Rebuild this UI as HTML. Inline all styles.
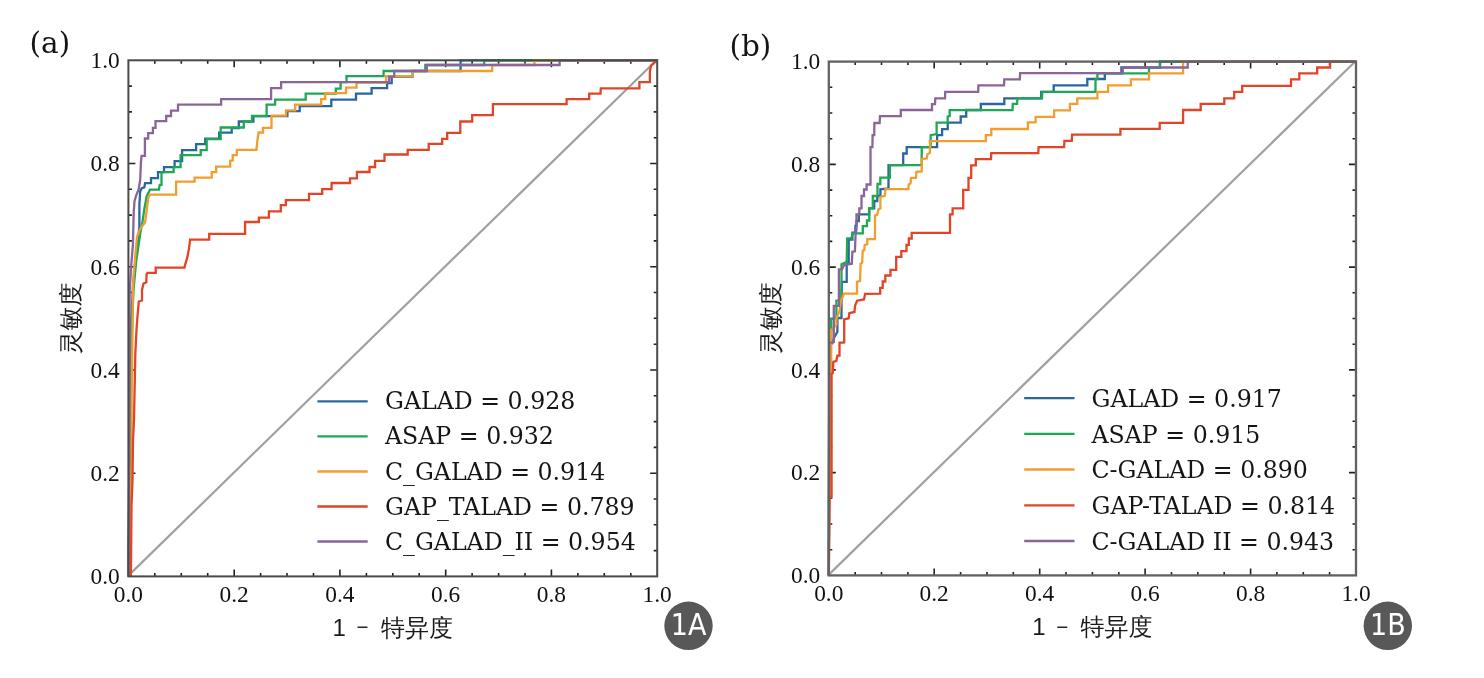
<!DOCTYPE html><html><head><meta charset="utf-8"><title>ROC</title><style>html,body{margin:0;padding:0;background:#fff;width:1484px;height:678px;overflow:hidden}svg{display:block}.tl{font-family:"Liberation Serif",serif;font-size:23.4px;fill:#111}.lg{font-family:"DejaVu Serif",serif;font-size:23.67px;fill:#151515}.pl{font-family:"DejaVu Serif",serif;font-size:29.5px;fill:#151515}.cj{font-family:"Liberation Sans","WenQuanYi Zen Hei",sans-serif;font-size:24px;fill:#1a1a1a}.bd{font-family:"DejaVu Sans",sans-serif;font-stretch:condensed;font-size:30px;fill:#fff}</style></head><body>
<svg width="1484" height="678" viewBox="0 0 1484 678">
<rect width="1484" height="678" fill="#fff"/>
<line x1="128.4" y1="575.6" x2="657.2" y2="59.5" stroke="#a0a0a0" stroke-width="2.2"/>
<path d="M154.8 576.4v-3.5M154.8 60.3v3.5M128.4 550.6h3.5M657.2 550.6h-3.5M181.3 576.4v-3.5M181.3 60.3v3.5M128.4 524.8h3.5M657.2 524.8h-3.5M207.7 576.4v-3.5M207.7 60.3v3.5M128.4 499.0h3.5M657.2 499.0h-3.5M234.2 576.4v-7M234.2 60.3v7M128.4 473.2h7M657.2 473.2h-7M260.6 576.4v-3.5M260.6 60.3v3.5M128.4 447.4h3.5M657.2 447.4h-3.5M287.0 576.4v-3.5M287.0 60.3v3.5M128.4 421.6h3.5M657.2 421.6h-3.5M313.5 576.4v-3.5M313.5 60.3v3.5M128.4 395.8h3.5M657.2 395.8h-3.5M339.9 576.4v-7M339.9 60.3v7M128.4 370.0h7M657.2 370.0h-7M366.4 576.4v-3.5M366.4 60.3v3.5M128.4 344.2h3.5M657.2 344.2h-3.5M392.8 576.4v-3.5M392.8 60.3v3.5M128.4 318.3h3.5M657.2 318.3h-3.5M419.2 576.4v-3.5M419.2 60.3v3.5M128.4 292.5h3.5M657.2 292.5h-3.5M445.7 576.4v-7M445.7 60.3v7M128.4 266.7h7M657.2 266.7h-7M472.1 576.4v-3.5M472.1 60.3v3.5M128.4 240.9h3.5M657.2 240.9h-3.5M498.6 576.4v-3.5M498.6 60.3v3.5M128.4 215.1h3.5M657.2 215.1h-3.5M525.0 576.4v-3.5M525.0 60.3v3.5M128.4 189.3h3.5M657.2 189.3h-3.5M551.4 576.4v-7M551.4 60.3v7M128.4 163.5h7M657.2 163.5h-7M577.9 576.4v-3.5M577.9 60.3v3.5M128.4 137.7h3.5M657.2 137.7h-3.5M604.3 576.4v-3.5M604.3 60.3v3.5M128.4 111.9h3.5M657.2 111.9h-3.5M630.8 576.4v-3.5M630.8 60.3v3.5M128.4 86.1h3.5M657.2 86.1h-3.5" stroke="#222" stroke-width="1.6" fill="none"/>
<path d="M128.4,576.3 129.2,480.0 130.0,400.0 130.8,330.0 133.0,285.0 136.0,255.0 139.4,227.0 139.4,204.3 140.2,191.4 141.8,188.1 144.3,187.3 145.1,183.2 151.0,183.2 151.0,178.2 158.0,178.2 158.0,172.2 164.0,172.2 164.0,167.2 174.6,167.2 174.6,161.1 182.1,161.1 182.1,150.1 196.1,150.1 196.1,144.1 205.2,144.1 205.2,138.6 219.2,138.6 219.2,132.6 231.7,132.6 231.7,128.0 238.8,128.0 238.8,121.5 253.4,121.5 253.4,116.2 287.4,116.2 287.4,111.1 299.7,111.1 299.7,106.1 331.3,106.1 331.3,99.6 356.0,99.6 356.0,93.6 371.6,93.6 371.6,88.1 387.1,88.1 387.1,83.1 391.7,83.1 391.7,76.6 412.7,76.6 412.7,71.0 460.6,71.0 460.6,60.3 657.2,60.3" stroke="#2a679f" stroke-width="2.3" fill="none" stroke-linejoin="miter"/>
<path d="M128.4,576.3 129.5,500.0 130.5,420.0 131.5,340.0 133.5,290.0 136.2,261.1 138.6,244.9 140.2,233.5 142.7,220.6 144.3,209.2 146.7,196.2 150.0,189.7 158.9,189.7 159.7,184.9 161.5,184.9 161.5,172.2 173.6,172.2 173.6,167.2 180.6,167.2 180.6,155.1 200.7,155.1 200.7,150.1 206.7,150.1 206.7,139.1 220.7,139.1 220.7,127.5 243.8,127.5 243.8,121.5 252.0,121.5 252.0,116.0 266.6,116.0 266.6,104.6 275.1,104.6 275.1,99.6 305.7,99.6 305.7,93.6 335.8,93.6 335.8,88.6 340.6,88.6 340.6,82.1 346.5,82.1 346.5,76.1 383.6,76.1 383.6,71.0 425.3,71.0 425.3,65.0 484.2,65.0 484.2,60.3 657.2,60.3" stroke="#1ea855" stroke-width="2.3" fill="none" stroke-linejoin="miter"/>
<path d="M128.4,576.3 130.5,520.0 131.5,460.0 131.7,400.0 132.5,330.0 132.9,290.0 133.7,274.1 137.0,236.8 140.2,228.7 145.1,222.2 148.3,197.8 150.0,194.6 176.1,194.6 176.1,181.7 194.6,181.7 194.6,177.7 211.7,177.7 211.7,172.2 216.2,172.2 216.2,166.7 230.2,166.7 230.2,160.6 232.7,160.6 232.7,155.1 236.8,155.1 236.8,149.8 256.4,149.8 257.4,140.5 258.6,132.5 263.0,132.5 263.0,127.9 271.5,127.9 271.5,115.7 286.0,115.7 286.0,110.4 295.2,110.4 295.2,104.6 321.2,104.6 321.2,99.1 325.2,99.1 325.2,93.1 346.0,93.1 346.0,87.6 356.5,87.6 356.5,82.6 386.1,82.6 386.1,76.1 412.7,76.1 412.7,71.0 492.2,71.0 492.2,65.0 534.5,65.0 534.5,60.3 657.2,60.3" stroke="#f09e30" stroke-width="2.3" fill="none" stroke-linejoin="miter"/>
<path d="M130.8,576.3 131.0,565.0 131.3,530.0 131.5,505.0 132.5,480.0 133.0,440.0 134.0,420.0 135.3,354.4 136.5,330.0 137.5,316.0 138.8,301.5 142.0,300.5 142.0,290.0 143.5,283.6 146.3,282.3 146.6,274.0 147.6,272.9 155.7,272.9 155.7,267.6 184.5,267.6 184.9,265.6 187.3,257.4 188.9,249.3 190.1,239.6 209.2,239.6 209.2,233.9 245.1,233.9 245.1,222.0 258.9,222.0 258.9,217.7 268.9,217.7 268.9,211.4 280.8,211.4 280.8,205.1 285.8,205.1 285.8,200.1 309.0,200.1 309.0,193.8 322.2,193.8 322.2,189.1 331.6,189.1 331.6,183.0 350.0,183.0 350.0,178.3 356.9,178.3 356.9,172.0 369.5,172.0 369.5,167.0 375.1,167.0 375.1,160.8 384.5,160.8 384.5,154.5 407.7,154.5 407.7,149.9 428.7,149.9 428.7,143.8 442.2,143.8 442.2,138.8 447.2,138.8 447.2,132.8 460.3,132.8 460.3,121.5 472.2,121.5 472.2,115.2 492.9,115.2 492.9,104.1 566.6,104.1 566.6,99.1 589.2,99.1 589.2,93.6 600.5,93.6 600.8,88.3 639.4,88.3 639.4,82.2 649.9,82.2 649.9,71.2 651.1,65.6 653.0,64.0 656.0,61.5 657.2,60.3" stroke="#e04528" stroke-width="2.3" fill="none" stroke-linejoin="miter"/>
<path d="M128.4,576.3 129.0,500.0 129.4,400.0 129.6,300.0 129.7,290.0 131.3,264.4 132.9,244.9 133.7,212.4 134.5,201.1 136.2,195.4 138.6,189.7 140.2,180.0 140.9,162.4 141.6,155.8 144.9,155.8 144.9,138.5 148.2,138.5 148.2,133.2 152.9,133.2 152.9,127.9 155.5,127.9 155.5,121.2 166.2,121.2 166.2,116.0 171.0,116.0 171.0,110.6 178.0,110.6 178.0,104.7 221.1,104.7 221.1,99.1 271.1,99.1 271.1,88.1 281.1,88.1 281.1,82.1 389.1,82.1 389.1,76.6 394.2,76.6 394.2,71.0 426.8,71.0 426.8,65.0 559.6,65.0 559.6,60.3 657.2,60.3" stroke="#8a6599" stroke-width="2.3" fill="none" stroke-linejoin="miter"/>
<rect x="128.4" y="60.3" width="528.8" height="516.1" fill="none" stroke="#4a4a4a" stroke-width="2.0"/>
<text x="128.4" y="601.7" text-anchor="middle" class="tl">0.0</text>
<text x="119.8" y="584.2" text-anchor="end" class="tl">0.0</text>
<text x="234.2" y="601.7" text-anchor="middle" class="tl">0.2</text>
<text x="119.8" y="481.0" text-anchor="end" class="tl">0.2</text>
<text x="339.9" y="601.7" text-anchor="middle" class="tl">0.4</text>
<text x="119.8" y="377.8" text-anchor="end" class="tl">0.4</text>
<text x="445.7" y="601.7" text-anchor="middle" class="tl">0.6</text>
<text x="119.8" y="274.5" text-anchor="end" class="tl">0.6</text>
<text x="551.4" y="601.7" text-anchor="middle" class="tl">0.8</text>
<text x="119.8" y="171.3" text-anchor="end" class="tl">0.8</text>
<text x="657.2" y="601.7" text-anchor="middle" class="tl">1.0</text>
<text x="119.8" y="68.1" text-anchor="end" class="tl">1.0</text>
<line x1="828.8" y1="574.6" x2="1356.0" y2="60.8" stroke="#a0a0a0" stroke-width="2.2"/>
<path d="M855.2 575.4v-3.5M855.2 61.6v3.5M828.8 549.7h3.5M1356.0 549.7h-3.5M881.5 575.4v-3.5M881.5 61.6v3.5M828.8 524.0h3.5M1356.0 524.0h-3.5M907.9 575.4v-3.5M907.9 61.6v3.5M828.8 498.3h3.5M1356.0 498.3h-3.5M934.2 575.4v-7M934.2 61.6v7M828.8 472.6h7M1356.0 472.6h-7M960.6 575.4v-3.5M960.6 61.6v3.5M828.8 446.9h3.5M1356.0 446.9h-3.5M987.0 575.4v-3.5M987.0 61.6v3.5M828.8 421.3h3.5M1356.0 421.3h-3.5M1013.3 575.4v-3.5M1013.3 61.6v3.5M828.8 395.6h3.5M1356.0 395.6h-3.5M1039.7 575.4v-7M1039.7 61.6v7M828.8 369.9h7M1356.0 369.9h-7M1066.0 575.4v-3.5M1066.0 61.6v3.5M828.8 344.2h3.5M1356.0 344.2h-3.5M1092.4 575.4v-3.5M1092.4 61.6v3.5M828.8 318.5h3.5M1356.0 318.5h-3.5M1118.8 575.4v-3.5M1118.8 61.6v3.5M828.8 292.8h3.5M1356.0 292.8h-3.5M1145.1 575.4v-7M1145.1 61.6v7M828.8 267.1h7M1356.0 267.1h-7M1171.5 575.4v-3.5M1171.5 61.6v3.5M828.8 241.4h3.5M1356.0 241.4h-3.5M1197.8 575.4v-3.5M1197.8 61.6v3.5M828.8 215.7h3.5M1356.0 215.7h-3.5M1224.2 575.4v-3.5M1224.2 61.6v3.5M828.8 190.1h3.5M1356.0 190.1h-3.5M1250.6 575.4v-7M1250.6 61.6v7M828.8 164.4h7M1356.0 164.4h-7M1276.9 575.4v-3.5M1276.9 61.6v3.5M828.8 138.7h3.5M1356.0 138.7h-3.5M1303.3 575.4v-3.5M1303.3 61.6v3.5M828.8 113.0h3.5M1356.0 113.0h-3.5M1329.6 575.4v-3.5M1329.6 61.6v3.5M828.8 87.3h3.5M1356.0 87.3h-3.5" stroke="#222" stroke-width="1.6" fill="none"/>
<path d="M828.8,575.2 829.3,343.0 832.3,343.0 834.0,338.0 837.4,331.7 837.4,318.0 841.5,318.0 841.5,295.0 842.0,281.8 846.7,281.8 846.7,262.0 848.7,262.0 848.7,239.5 852.4,239.5 852.4,232.7 855.4,232.7 855.4,225.9 856.5,225.9 856.5,221.0 858.8,221.0 858.8,214.4 869.1,214.4 869.1,208.4 874.2,208.4 874.2,201.0 877.3,201.0 877.3,196.0 880.4,196.0 880.4,189.3 888.5,188.4 888.5,165.1 903.2,165.1 903.2,153.5 906.7,153.5 906.7,147.1 937.1,147.1 937.1,135.1 942.1,135.1 942.1,129.1 947.7,129.1 947.7,122.6 960.7,122.6 960.7,116.5 966.2,116.5 966.2,110.0 980.8,110.0 980.8,104.0 1004.3,104.0 1004.3,98.3 1041.2,98.3 1041.2,91.9 1053.7,91.9 1053.7,85.4 1087.3,85.4 1087.3,79.0 1104.8,79.0 1104.8,73.4 1121.4,73.4 1121.4,67.5 1159.9,67.5 1159.9,61.6 1356.0,61.6" stroke="#2a679f" stroke-width="2.3" fill="none" stroke-linejoin="miter"/>
<path d="M828.8,575.2 829.3,343.0 831.2,340.0 831.2,319.0 836.4,318.0 836.4,300.7 841.5,300.0 841.5,264.2 843.6,263.2 846.7,262.2 847.2,238.4 851.3,238.4 852.9,233.3 858.4,233.4 862.8,233.4 862.8,226.1 867.0,226.1 867.0,220.5 869.3,220.5 869.3,208.4 872.8,208.4 872.8,196.0 877.5,196.0 877.5,184.0 880.3,184.0 880.3,177.7 889.9,177.7 889.9,165.1 921.7,165.1 921.7,147.1 930.6,147.1 930.6,135.1 936.6,134.1 936.6,122.6 947.7,122.6 947.7,116.5 949.7,116.0 949.7,110.2 1012.5,110.2 1012.8,103.9 1017.1,103.9 1017.4,98.3 1042.0,98.3 1042.3,91.9 1095.5,91.9 1095.5,79.0 1097.4,79.0 1097.4,73.4 1149.0,73.4 1149.0,67.9 1160.1,67.9 1160.1,61.6 1356.0,61.6" stroke="#1ea855" stroke-width="2.3" fill="none" stroke-linejoin="miter"/>
<path d="M828.8,575.2 829.5,498.0 831.2,497.0 831.2,330.0 836.4,325.0 836.4,319.0 839.5,311.0 841.0,300.7 844.0,293.7 857.0,293.7 857.0,281.8 860.1,280.8 860.6,263.7 862.2,262.7 862.7,250.8 864.2,250.3 864.7,245.1 867.3,244.1 867.3,239.2 875.0,239.2 875.0,215.6 877.3,214.6 878.4,209.4 880.4,208.4 880.4,197.0 884.8,195.8 885.5,189.1 908.4,189.1 908.7,184.7 910.6,183.2 911.0,178.0 916.0,177.7 916.5,171.8 921.7,171.4 921.7,159.0 926.8,158.5 927.5,154.0 929.8,153.0 930.1,147.1 929.8,141.1 985.8,141.1 985.8,135.1 991.3,135.1 991.3,129.0 1027.9,129.0 1027.9,122.3 1035.6,122.3 1035.6,116.8 1054.1,116.8 1054.1,110.3 1069.9,110.3 1069.9,103.9 1077.3,103.9 1077.3,98.3 1097.4,98.3 1097.4,91.9 1108.1,91.9 1108.1,85.4 1130.9,85.4 1130.9,79.3 1149.0,79.3 1149.0,73.4 1183.1,73.4 1183.1,61.6 1356.0,61.6" stroke="#f09e30" stroke-width="2.3" fill="none" stroke-linejoin="miter"/>
<path d="M828.8,575.2 829.5,498.0 831.5,497.0 831.5,374.0 832.8,373.2 833.3,361.9 836.4,360.8 837.4,355.7 839.5,355.7 839.5,342.8 844.2,342.5 844.2,319.3 848.8,318.2 849.3,313.1 854.5,312.0 855.0,305.8 857.1,300.7 864.0,299.4 865.1,293.8 880.2,293.7 880.2,287.9 882.7,287.9 882.7,281.5 885.3,281.5 885.3,275.5 890.5,275.5 890.5,269.8 896.2,269.8 896.2,256.9 901.3,256.9 901.3,251.2 906.5,251.2 906.5,244.8 908.8,244.8 908.8,238.5 911.7,238.5 911.7,232.8 950.0,232.8 950.0,214.3 952.6,214.3 952.6,208.4 963.2,208.4 963.2,189.8 968.5,189.8 968.5,177.9 971.2,177.9 971.2,165.3 975.8,165.3 975.8,159.2 991.0,159.2 991.3,153.1 1038.3,153.1 1038.6,147.2 1064.1,147.2 1064.4,140.8 1071.8,140.8 1072.1,134.7 1120.4,134.7 1120.4,128.8 1159.7,128.8 1159.7,122.9 1183.1,122.9 1183.1,110.0 1200.7,110.0 1200.7,103.9 1224.3,103.9 1224.3,98.3 1234.2,98.3 1234.2,91.9 1242.2,91.9 1242.2,85.8 1291.0,85.8 1291.0,79.3 1299.3,79.3 1299.3,73.4 1317.2,73.4 1317.2,67.5 1330.1,67.5 1330.1,61.6 1356.0,61.6" stroke="#e04528" stroke-width="2.3" fill="none" stroke-linejoin="miter"/>
<path d="M828.8,575.2 829.3,343.0 833.8,342.0 833.8,305.8 838.9,305.8 838.9,269.4 842.0,269.4 844.1,265.0 851.8,263.7 852.4,251.8 854.9,251.3 855.6,234.3 856.5,230.0 856.5,214.5 859.3,214.5 859.3,208.4 861.5,208.4 861.5,196.0 864.0,196.0 864.0,189.5 866.6,189.5 866.6,184.5 870.5,184.5 870.5,147.2 872.4,147.2 872.6,135.2 874.2,135.2 874.4,123.0 879.6,123.0 880.0,116.2 900.8,116.2 900.8,110.0 932.0,110.0 932.0,104.2 935.0,104.2 935.3,98.3 945.0,98.3 945.2,91.9 978.2,91.9 978.4,85.4 1004.0,85.4 1004.3,79.3 1019.8,79.3 1020.1,73.1 1122.8,73.1 1122.8,67.5 1187.7,67.5 1187.7,61.6 1356.0,61.6" stroke="#8a6599" stroke-width="2.3" fill="none" stroke-linejoin="miter"/>
<rect x="828.8" y="61.6" width="527.2" height="513.8" fill="none" stroke="#626262" stroke-width="2.3"/>
<text x="828.8" y="600.7" text-anchor="middle" class="tl">0.0</text>
<text x="820.2" y="583.2" text-anchor="end" class="tl">0.0</text>
<text x="934.2" y="600.7" text-anchor="middle" class="tl">0.2</text>
<text x="820.2" y="480.4" text-anchor="end" class="tl">0.2</text>
<text x="1039.7" y="600.7" text-anchor="middle" class="tl">0.4</text>
<text x="820.2" y="377.7" text-anchor="end" class="tl">0.4</text>
<text x="1145.1" y="600.7" text-anchor="middle" class="tl">0.6</text>
<text x="820.2" y="274.9" text-anchor="end" class="tl">0.6</text>
<text x="1250.6" y="600.7" text-anchor="middle" class="tl">0.8</text>
<text x="820.2" y="172.2" text-anchor="end" class="tl">0.8</text>
<text x="1356.0" y="600.7" text-anchor="middle" class="tl">1.0</text>
<text x="820.2" y="69.4" text-anchor="end" class="tl">1.0</text>
<line x1="317.4" y1="401.4" x2="367.7" y2="401.4" stroke="#2a679f" stroke-width="2.3"/>
<text x="385.0" y="409.3" class="lg">GALAD = 0.928</text>
<line x1="317.4" y1="436.4" x2="367.7" y2="436.4" stroke="#1ea855" stroke-width="2.3"/>
<text x="385.0" y="444.4" class="lg">ASAP = 0.932</text>
<line x1="317.4" y1="471.5" x2="367.7" y2="471.5" stroke="#f09e30" stroke-width="2.3"/>
<text x="385.0" y="479.5" class="lg">C_GALAD = 0.914</text>
<line x1="317.4" y1="506.5" x2="367.7" y2="506.5" stroke="#e04528" stroke-width="2.3"/>
<text x="385.0" y="514.6" class="lg">GAP_TALAD = 0.789</text>
<line x1="317.4" y1="541.5" x2="367.7" y2="541.5" stroke="#8a6599" stroke-width="2.3"/>
<text x="385.0" y="549.7" class="lg">C_GALAD_II = 0.954</text>
<line x1="1024.2" y1="398.1" x2="1074.5" y2="398.1" stroke="#2a679f" stroke-width="2.3"/>
<text x="1091.5" y="406.9" class="lg">GALAD = 0.917</text>
<line x1="1024.2" y1="433.8" x2="1074.5" y2="433.8" stroke="#1ea855" stroke-width="2.3"/>
<text x="1091.5" y="442.6" class="lg">ASAP = 0.915</text>
<line x1="1024.2" y1="469.5" x2="1074.5" y2="469.5" stroke="#f09e30" stroke-width="2.3"/>
<text x="1091.5" y="478.3" class="lg">C-GALAD = 0.890</text>
<line x1="1024.2" y1="505.3" x2="1074.5" y2="505.3" stroke="#e04528" stroke-width="2.3"/>
<text x="1091.5" y="514.0" class="lg">GAP-TALAD = 0.814</text>
<line x1="1024.2" y1="541.0" x2="1074.5" y2="541.0" stroke="#8a6599" stroke-width="2.3"/>
<text x="1091.5" y="549.7" class="lg">C-GALAD II = 0.943</text>
<text x="29.6" y="53.3" class="pl">(a)</text>
<text x="729.4" y="55.8" class="pl">(b)</text>
<text class="cj" y="635.5"><tspan x="332.6">1</tspan><tspan x="356.6" font-size="20.5" dy="-1.2">−</tspan><tspan x="381.0" dy="1.2">特异度</tspan></text>
<text class="cj" y="634.9"><tspan x="1032.2">1</tspan><tspan x="1056.2" font-size="20.5" dy="-1.2">−</tspan><tspan x="1080.6" dy="1.2">特异度</tspan></text>
<text transform="translate(79.2,354.6) rotate(-90)" class="cj">灵敏度</text>
<text transform="translate(779.4,354.2) rotate(-90)" class="cj">灵敏度</text>
<circle cx="688.5" cy="625.8" r="24.2" fill="#585858"/>
<text x="688.6" y="634.9" text-anchor="middle" class="bd">1A</text>
<circle cx="1387.8" cy="625.8" r="24.2" fill="#585858"/>
<text x="1387.9" y="634.9" text-anchor="middle" class="bd">1B</text>
</svg></body></html>
